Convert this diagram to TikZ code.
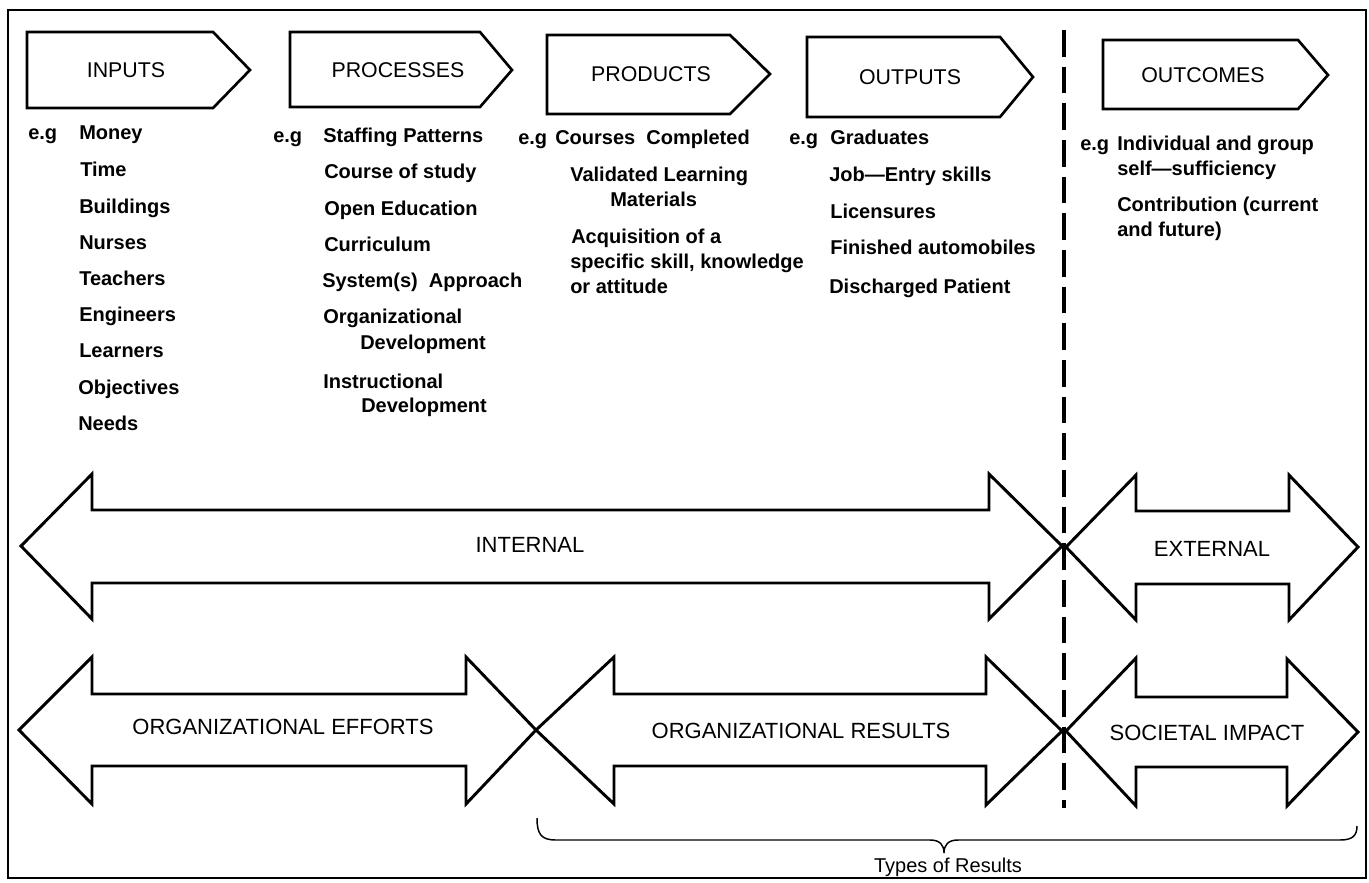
\documentclass[tikz,border=0pt]{standalone}
\usepackage{fontspec}
\setmainfont{Liberation Sans}
\begin{document}
\begin{tikzpicture}[x=0.75pt,y=-0.75pt,
  frame/.style={line width=1.8pt},
  tagbox/.style={line width=2pt, line join=miter},
  bigarrow/.style={line width=2.2pt, line join=miter},
  divider/.style={line width=3pt, dash pattern=on 20pt off 7.5pt},
  bracestyle/.style={line width=1.1pt},
  headlabel/.style={font=\fontsize{16}{19}\selectfont, inner sep=0pt},
  arrowlabel/.style={font=\fontsize{16.5}{20}\selectfont, inner sep=0pt},
  item/.style={font=\bfseries\fontsize{15}{18}\selectfont, anchor=base west, inner sep=0pt},
  bracelabel/.style={font=\fontsize{15}{18}\selectfont, inner sep=0pt}]
\useasboundingbox (0,0) rectangle (1369,882);

% outer frame
\draw[frame] (8,10) rectangle (1366,878);

% header tags
\draw[tagbox] (27,32) -- (213,32) -- (250,70) -- (213,108) -- (27,108) -- cycle;
\node[headlabel] (hin) at (126,70) {INPUTS};
\draw[tagbox] (290,32) -- (480,32) -- (512,70) -- (480,107) -- (290,107) -- cycle;
\node[headlabel] (hpr) at (398,70) {PROCESSES};
\draw[tagbox] (547,35) -- (730,35) -- (770,74) -- (730,114) -- (547,114) -- cycle;
\node[headlabel] (hpd) at (651,74) {PRODUCTS};
\draw[tagbox] (807,37) -- (1000,37) -- (1033,77) -- (1000,117) -- (807,117) -- cycle;
\node[headlabel] (hout) at (910,77) {OUTPUTS};
\draw[tagbox] (1103,40) -- (1298,40) -- (1328,75) -- (1298,109) -- (1103,109) -- cycle;
\node[headlabel] (hoc) at (1203,75) {OUTCOMES};

% divider between internal and external
\coordinate (dtop) at (1064,30);
\coordinate (dbot) at (1064,808);
\draw[divider] (dtop) -- (dbot);

% inputs column
\node[item] (ieg) at (28,139) {e.g};
\node[item] (i1) at (79,139) {Money};
\node[item] (i2) at (80,176) {Time};
\node[item] (i3) at (79,213) {Buildings};
\node[item] (i4) at (79,249) {Nurses};
\node[item] (i5) at (79,285) {Teachers};
\node[item] (i6) at (79,321) {Engineers};
\node[item] (i7) at (79,357) {Learners};
\node[item] (i8) at (78,394) {Objectives};
\node[item] (i9) at (78,430) {Needs};

% processes column
\node[item] (peg) at (273,142) {e.g};
\node[item] (p1) at (323,142) {Staffing Patterns};
\node[item] (p2) at (324,178) {Course of study};
\node[item] (p3) at (324,215) {Open Education};
\node[item] (p4) at (324,251) {Curriculum};
\node[item] (p5) at (322,287) {System(s)\ \ Approach};
\node[item] (p6) at (323,323) {Organizational};
\node[item] (p7) at (360,349) {Development};
\node[item] (p8) at (323,388) {Instructional};
\node[item] (p9) at (361,412) {Development};

% products column
\node[item] (deg) at (518,144) {e.g};
\node[item] (d1) at (555,144) {Courses\ \ Completed};
\node[item] (d2) at (570,181) {Validated Learning};
\node[item] (d3) at (610,206) {Materials};
\node[item] (d4) at (571,243) {Acquisition of a};
\node[item] (d5) at (570,268) {specific skill, knowledge};
\node[item] (d6) at (570,293) {or attitude};

% outputs column
\node[item] (oeg) at (789,144) {e.g};
\node[item] (o1) at (830,144) {Graduates};
\node[item] (o2) at (829,181) {Job—Entry skills};
\node[item] (o3) at (830,218) {Licensures};
\node[item] (o4) at (830,254) {Finished automobiles};
\node[item] (o5) at (829,293) {Discharged Patient};

% outcomes column
\node[item] (ceg) at (1080,150) {e.g};
\node[item] (c1) at (1117,150) {Individual and group};
\node[item] (c2) at (1117,175) {self—sufficiency};
\node[item] (c3) at (1117,211) {Contribution (current};
\node[item] (c4) at (1117,236) {and future)};

% internal / external arrows
\draw[bigarrow] (21,546) -- (92,474) -- (92,510) -- (989,510) -- (989,474) -- (1062,546)
  -- (989,619) -- (989,583) -- (92,583) -- (92,619) -- cycle;
\node[arrowlabel] (internal) at (530,545) {INTERNAL};
\draw[bigarrow] (1066,547) -- (1136,475) -- (1136,511) -- (1289,511) -- (1289,475) -- (1358,547)
  -- (1289,620) -- (1289,584) -- (1136,584) -- (1136,620) -- cycle;
\node[arrowlabel] (external) at (1212,549) {EXTERNAL};

% efforts / results / impact arrows
\draw[bigarrow] (19,730) -- (92,657) -- (92,694) -- (466,694) -- (466,657) -- (536,730)
  -- (466,804) -- (466,766) -- (92,766) -- (92,804) -- cycle;
\node[arrowlabel] (efforts) at (283,727) {ORGANIZATIONAL EFFORTS};
\draw[bigarrow] (536,730) -- (614,657) -- (614,694) -- (986,694) -- (986,657) -- (1062,731)
  -- (986,805) -- (986,766) -- (614,766) -- (614,804) -- cycle;
\node[arrowlabel] (results) at (801,731) {ORGANIZATIONAL RESULTS};
\draw[bigarrow] (1066,731) -- (1136,658) -- (1136,697) -- (1287,697) -- (1287,659) -- (1358,732)
  -- (1287,806) -- (1287,767) -- (1136,767) -- (1136,806) -- cycle;
\node[arrowlabel] (impact) at (1207,733) {SOCIETAL IMPACT};

% brace grouping the result types
\draw[bracestyle] (537,818) .. controls (537,834) and (541,840) .. (556,840) -- (930,840)
  .. controls (940,840) and (944,845) .. (944,853)
  .. controls (944,845) and (948,840) .. (958,840) -- (1340,840)
  .. controls (1352,840) and (1357,836) .. (1357,826);
\node[bracelabel] (types) at (948,867) {Types of Results};
\end{tikzpicture}
\end{document}
